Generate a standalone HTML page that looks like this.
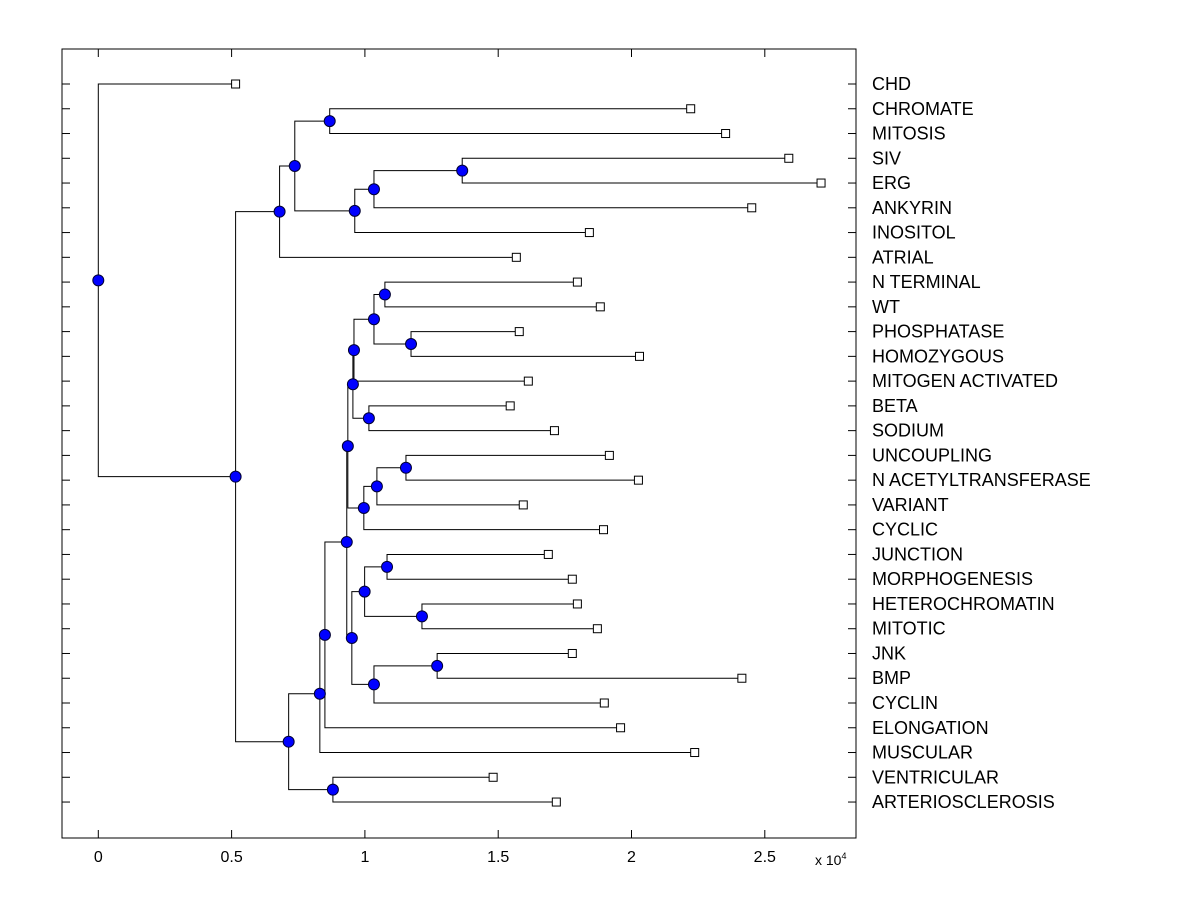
<!DOCTYPE html>
<html><head><meta charset="utf-8"><style>
body{margin:0;background:#fff;}
svg{display:block;font-family:"Liberation Sans",Arial,sans-serif;}
</style></head><body>
<svg id="chart" width="1200" height="900" viewBox="0 0 1200 900">
<rect x="0" y="0" width="1200" height="900" fill="#fff"/>
<g id="plot"></g>
</svg>
<script>
const leafNames = ["CHD","CHROMATE","MITOSIS","SIV","ERG","ANKYRIN","INOSITOL","ATRIAL","N TERMINAL","WT","PHOSPHATASE","HOMOZYGOUS","MITOGEN ACTIVATED","BETA","SODIUM","UNCOUPLING","N ACETYLTRANSFERASE","VARIANT","CYCLIC","JUNCTION","MORPHOGENESIS","HETEROCHROMATIN","MITOTIC","JNK","BMP","CYCLIN","ELONGATION","MUSCULAR","VENTRICULAR","ARTERIOSCLEROSIS"];
const leafValues = [0.515,2.222,2.353,2.590,2.711,2.451,1.842,1.568,1.797,1.883,1.579,2.030,1.613,1.545,1.711,1.917,2.026,1.594,1.895,1.688,1.778,1.797,1.872,1.778,2.414,1.898,1.959,2.237,1.481,1.718];
// internal nodes: child A, child B (indices; >=30 refer to internal nodes 30+k)
const nodeChildA = [1,3,31,32,30,34,8,10,36,38,13,39,15,42,43,41,19,21,46,23,49,48,45,52,53,28,54,35,0];
const nodeChildB = [2,4,5,6,33,7,9,11,37,12,14,40,16,17,18,44,20,22,47,24,25,50,51,26,27,29,55,56,57];
const nodeValues = [0.868,1.365,1.034,0.962,0.737,0.680,1.075,1.173,1.034,0.959,1.015,0.955,1.154,1.045,0.996,0.936,1.083,1.214,0.999,1.271,1.034,0.951,0.932,0.850,0.831,0.880,0.714,0.515,0];
const xTicks = [0,0.5,1,1.5,2,2.5];
const xTickLabels = ["0","0.5","1","1.5","2","2.5"];

const NS="http://www.w3.org/2000/svg";
const g=document.getElementById('plot');
const L=62,R=856,T=49,B=838;
const X=v=>98.3+v*266.6;
const rowY=i=>84+i*24.76;
function mk(tag,attrs,parent){const e=document.createElementNS(NS,tag);for(const k in attrs)e.setAttribute(k,attrs[k]);(parent||g).appendChild(e);return e;}

let box=mk('rect',{x:L,y:T,width:R-L,height:B-T,fill:'none',stroke:'#000','stroke-width':1});



xTicks.forEach((t,i)=>{
  const x=X(t);
  let a=mk('line',{x1:x,x2:x,y1:B,y2:B-8,stroke:'#000'});
  
  
  let b=mk('line',{x1:x,x2:x,y1:T,y2:T+8,stroke:'#000'});
  
  
  let tx=mk('text',{x:x,y:862,'text-anchor':'middle','font-size':16,fill:'#000'});
  tx.textContent=xTickLabels[i];
  
  
});
let sc=mk('text',{x:815,y:865,'font-size':14,fill:'#000'});
sc.innerHTML='x 10<tspan dy="-6" font-size="9">4</tspan>';



leafNames.forEach((n,i)=>{
  const y=rowY(i);
  let a=mk('line',{x1:L,x2:L+8,y1:y,y2:y,stroke:'#000'});
  
  
  let b=mk('line',{x1:R,x2:R-8,y1:y,y2:y,stroke:'#000'});
  
  
  let t=mk('text',{x:872,y:y+6,'font-size':18,fill:'#000'});
  t.textContent=n;
  
  
});

const N=leafNames.length;
const px=[],py=[];
leafValues.forEach((v,i)=>{px[i]=X(v);py[i]=rowY(i);});
nodeValues.forEach((v,k)=>{
  const a=nodeChildA[k],b=nodeChildB[k];
  px[N+k]=X(v);py[N+k]=(py[a]+py[b])/2;
});
const lines=mk('g',{});


nodeValues.forEach((v,k)=>{
  const id=N+k,a=nodeChildA[k],b=nodeChildB[k];
  const x=px[id];
  let p=mk('path',{d:`M${px[a]},${py[a]}H${x}V${py[b]}H${px[b]}`,fill:'none',stroke:'#000','stroke-width':1},lines);
  
  
});
leafValues.forEach((v,i)=>{
  let s=mk('rect',{x:px[i]-4,y:py[i]-4,width:8,height:8,fill:'#fff',stroke:'#000','stroke-width':1});
  
  
});
nodeValues.forEach((v,k)=>{
  const id=N+k;
  let c=mk('circle',{cx:px[id],cy:py[id],r:5.5,fill:'#0000ff',stroke:'#000033','stroke-width':1});
  
  
});
</script>
</body></html>
